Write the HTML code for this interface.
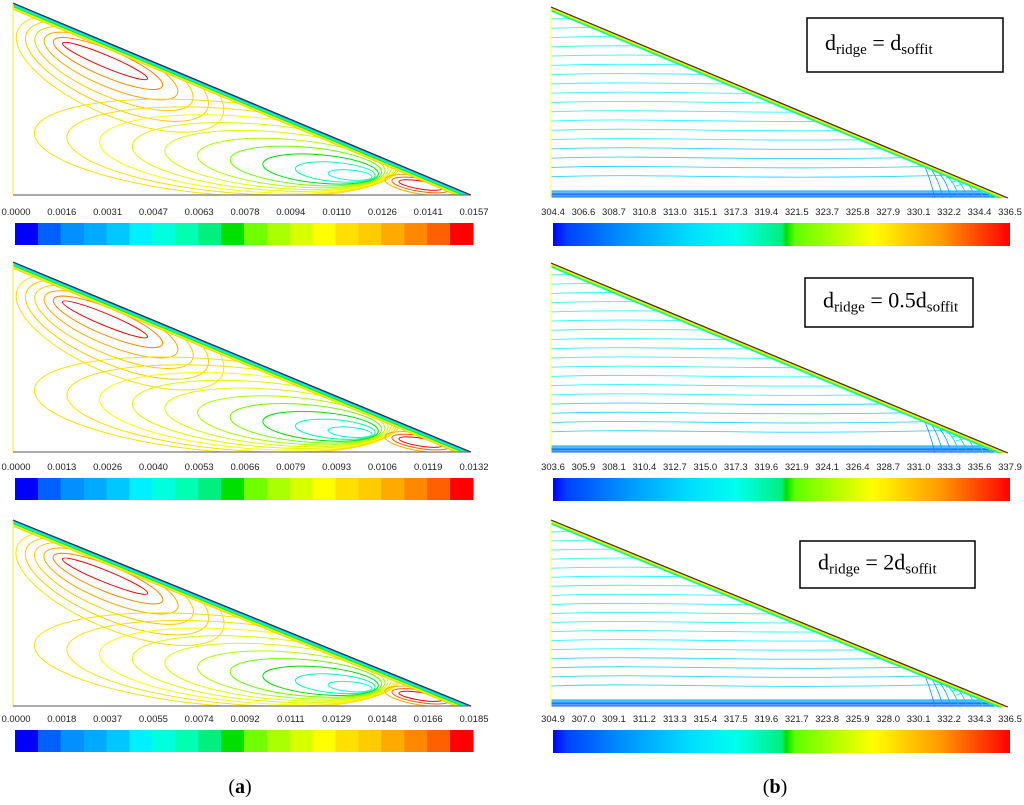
<!DOCTYPE html>
<html><head><meta charset="utf-8"><style>
html,body{margin:0;padding:0;background:#fff;}
svg{display:block;font-family:"Liberation Sans",sans-serif;}
</style></head><body>
<svg id="fig" width="1024" height="805" viewBox="0 0 1024 805"></svg>
<script>
const ticksA1=["0.0000","0.0016","0.0031","0.0047","0.0063","0.0078","0.0094","0.0110","0.0126","0.0141","0.0157"];
const ticksA2=["0.0000","0.0013","0.0026","0.0040","0.0053","0.0066","0.0079","0.0093","0.0106","0.0119","0.0132"];
const ticksA3=["0.0000","0.0018","0.0037","0.0055","0.0074","0.0092","0.0111","0.0129","0.0148","0.0166","0.0185"];
const ticksB1=["304.4","306.6","308.7","310.8","313.0","315.1","317.3","319.4","321.5","323.7","325.8","327.9","330.1","332.2","334.4","336.5"];
const ticksB2=["303.6","305.9","308.1","310.4","312.7","315.0","317.3","319.6","321.9","324.1","326.4","328.7","331.0","333.3","335.6","337.9"];
const ticksB3=["304.9","307.0","309.1","311.2","313.3","315.4","317.5","319.6","321.7","323.8","325.9","328.0","330.1","332.2","334.3","336.5"];
const palette=["#0000ff","#0060ff","#0090ff","#00aaff","#00c8ff","#00f0ff","#00ffdd","#00ffb0","#00f080","#00e000","#70ff00","#aaff00","#d8ff00","#ffff00","#ffe000","#ffcc00","#ffaa00","#ff8800","#ff6000","#ff0000"];
const mainCell=[0.98,0.88,0.82,0.78,0.76,0.74];
const secondCell=[0.3,0.38,0.45,0.5,0.55,0.6,0.64,0.67,0.7,0.72];
const cornerCell=[0.98,0.9,0.82];
const tempLevels=[0.36,0.33,0.31,0.3,0.29,0.29,0.28,0.28,0.27,0.27,0.26,0.26,0.25,0.25,0.24,0.24,0.23,0.22];
const NS="http://www.w3.org/2000/svg";
const svg=document.getElementById('fig');
function el(t,a,p){const e=document.createElementNS(NS,t);for(const k in a)e.setAttribute(k,a[k]);(p||svg).appendChild(e);return e;}
function col(f){return palette[Math.max(0,Math.min(19,Math.floor(f*20)))];}
let cid=0;
function leftPanel(y0,y1,ticks,ly,by){
  const x0=13,x1=471,h=y1-y0,w=x1-x0,s=h/192;
  const g=el('g',{});
  
  
  const id='c'+(cid++);
  const cp=el('clipPath',{id:id},g);
  el('polygon',{points:`${x0},${y0} ${x0},${y1} ${x1},${y1}`},cp);
  const cg=el('g',{'clip-path':`url(#${id})`},g);
  const ang=Math.atan2(h,w)*180/Math.PI;
  mainCell.forEach((v,i)=>{
    const cx=x0+92+i*3, cy=y0+(58+i*2.5)*s;
    const e=el('ellipse',{cx:cx,cy:cy,rx:46+i*13,ry:(6+i*7.5)*s,transform:`rotate(${ang} ${cx} ${cy})`,fill:'none',stroke:col(v),'stroke-width':1},cg);
    
  });
  secondCell.forEach((v,i)=>{
    const cx=x0+337-i*14.7, cy=y0+(172-i*3)*s;
    const e=el('ellipse',{cx:cx,cy:cy,rx:22+i*18,ry:(5+i*4.6)*s,transform:`rotate(5 ${cx} ${cy})`,fill:'none',stroke:col(v),'stroke-width':1},cg);
    
  });
  cornerCell.forEach((v,i)=>{
    const cx=x0+w*0.89, cy=y1-10*s;
    const e=el('ellipse',{cx:cx,cy:cy,rx:22+i*7,ry:(4+i*2.5)*s,transform:`rotate(${ang*0.4} ${cx} ${cy})`,fill:'none',stroke:col(v),'stroke-width':1},cg);
    
  });
  for(let k=0;k<10;k++){const d=k*0.7;const fr=0.03+k*0.085;
    el('line',{x1:x0,y1:y0+d,x2:x1,y2:y1+d,stroke:col(fr),'stroke-width':0.8},cg);}
  el('line',{x1:x0,y1:y0,x2:x0,y2:y1,stroke:'#ffee40','stroke-width':1.2},g);
  el('line',{x1:x0,y1:y1,x2:x1,y2:y1,stroke:'#777','stroke-width':1.2},g);
  el('line',{x1:x0,y1:y0,x2:x1,y2:y1,stroke:'#333','stroke-width':1.2},g);
  colorbarSteps(15,473,by,22,ticks,ly);
}
function colorbarSteps(xa,xb,by,bh,ticks,ly){
  const g=el('g',{});
  
  
  const sw=(xb-xa)/palette.length;
  palette.forEach((c,i)=>{const r=el('rect',{x:xa+i*sw,y:by,width:sw+0.5,height:bh,fill:c},g);
    });
  ticks.forEach((t,i)=>{const x=xa+1+i*(xb-xa)/(ticks.length-1);
    const tx=el('text',{x:x,y:ly,'font-size':9.5,'text-anchor':'middle',fill:'#222'},g);tx.textContent=t;
    });
}
function rightPanel(y0,y1,ticks,ly,by,box,lab){
  const x0=551,x1=1008,h=y1-y0,w=x1-x0;
  const g=el('g',{});
  
  
  const id='c'+(cid++);
  const cp=el('clipPath',{id:id},g);
  el('polygon',{points:`${x0},${y0} ${x0},${y1} ${x1},${y1}`},cp);
  const cg=el('g',{'clip-path':`url(#${id})`},g);
  tempLevels.forEach((v,i)=>{
    const y=y0+12+i*(h-24)/tempLevels.length;
    const p=`M${x0},${y} C${x0+120},${y-4} ${x0+200},${y+5} ${x1},${y-3}`;
    const e=el('path',{d:p,fill:'none',stroke:col(v),'stroke-width':0.9,opacity:0.8},cg);
    
  });
  for(let k=0;k<6;k++){el('line',{x1:x0,y1:y1-1-k*1.2,x2:x1,y2:y1-1-k*1.2,stroke:col(0.05+k*0.02),'stroke-width':0.9},cg);}
  for(let k=0;k<8;k++){const cx=x0+w*0.84+k*8;
    el('path',{d:`M${cx},${y1} Q${cx-5},${y1-22} ${cx-14-k*3},${y1-40+k*4}`,fill:'none',stroke:col(0.14+k*0.02),'stroke-width':0.8},cg);}
  for(let k=0;k<8;k++){const d=k*0.6;
    el('line',{x1:x0,y1:y0+d,x2:x1,y2:y1+d,stroke:col(0.95-k*0.09),'stroke-width':0.8},cg);}
  el('line',{x1:x0,y1:y0,x2:x0,y2:y1,stroke:'#ffff80','stroke-width':1.2},g);
  el('line',{x1:x0,y1:y0,x2:x1,y2:y1,stroke:'#333','stroke-width':1.2},g);
  const gid='g'+(cid++);
  const lg=el('linearGradient',{id:gid,x1:0,x2:1,y1:0,y2:0},g);
  [["0","#0000ff"],["0.03","#0040ff"],["0.15","#0090ff"],["0.3","#00ddff"],["0.4","#00ffee"],["0.5","#00ee80"],["0.51","#00dd00"],["0.53","#60ff00"],["0.7","#ffff00"],["0.85","#ff9900"],["1","#ff0000"]].forEach(s=>el('stop',{offset:s[0],'stop-color':s[1]},lg));
  const cb=el('rect',{x:553,y:by,width:457,height:23,fill:`url(#${gid})`},g);
  
  ticks.forEach((t,i)=>{const x=553+i*457/(ticks.length-1);
    const tx=el('text',{x:x,y:ly,'font-size':9.5,'text-anchor':'middle',fill:'#222'},g);tx.textContent=t;
    });
  const b=el('rect',{x:box[0],y:box[1],width:box[2],height:box[3],fill:'#fff',stroke:'#000','stroke-width':1.5},g);
  
  const t=el('text',{x:box[0]+18,y:box[1]+box[3]/2+5,'font-size':22,'font-family':'"Liberation Serif",serif',fill:'#000'},g);
  
  t.innerHTML=`d<tspan font-size="15" dy="4">ridge</tspan><tspan dy="-4"> = ${lab}d</tspan><tspan font-size="15" dy="4">soffit</tspan>`;
}
leftPanel(3,195,ticksA1,215,223);
leftPanel(262,452,ticksA2,470,478);
leftPanel(520,706,ticksA3,722,730);
rightPanel(7,198,ticksB1,215,223,[807,18,196,54],"");
rightPanel(263,453,ticksB2,470,478,[805,278,168,49],"0.5");
rightPanel(520,707,ticksB3,722,730,[800,541,175,47],"2");
[["(a)",240,"subfigure-a-label"],["(b)",775,"subfigure-b-label"]].forEach(s=>{
  const t=el('text',{x:s[1],y:793,'font-size':20,'text-anchor':'middle','font-family':'"Liberation Serif",serif'});
  
  t.innerHTML='(<tspan font-weight="bold">'+s[0][1]+'</tspan>)';
});
</script>
</body></html>
